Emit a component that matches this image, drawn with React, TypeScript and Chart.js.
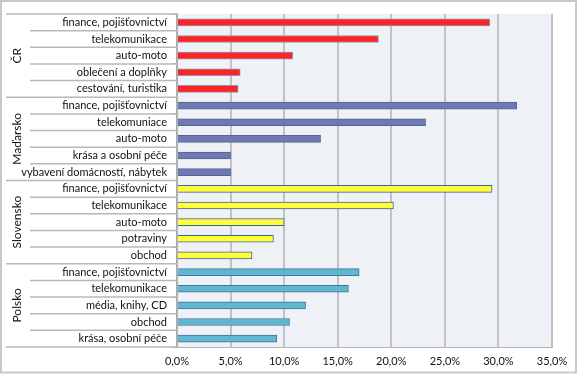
import React, { useEffect, useRef } from "react";
import { Chart, registerables } from "chart.js";

Chart.register(...registerables);

const groups = ["ČR", "Maďarsko", "Slovensko", "Polsko"];
const groupSizes = [5, 5, 5, 5];
const categories = [
  "finance, pojišťovnictví",
  "telekomunikace",
  "auto-moto",
  "oblečení a doplňky",
  "cestování, turistika",
  "finance, pojišťovnictví",
  "telekomuniace",
  "auto-moto",
  "krása a osobní péče",
  "vybavení domácností, nábytek",
  "finance, pojišťovnictví",
  "telekomunikace",
  "auto-moto",
  "potraviny",
  "obchod",
  "finance, pojišťovnictví",
  "telekomunikace",
  "média, knihy, CD",
  "obchod",
  "krása, osobní péče",
];
const values = [
  29.2, 18.8, 10.8, 5.9, 5.7,
  31.7, 23.2, 13.4, 5.0, 5.0,
  29.4, 20.2, 10.0, 9.0, 7.0,
  17.0, 16.0, 12.0, 10.5, 9.3,
];
const xTicks = [0, 5, 10, 15, 20, 25, 30, 35];
const groupFill = ["#ff2424", "#7278b2", "#ffff3a", "#60b8cf"];
const groupBorder = ["#8496b6", "#4c6799", "#3d62a0", "#3f75a6"];

const FONT = "Lato";

export default function App() {
  const ref = useRef<HTMLCanvasElement>(null);
  useEffect(() => {
    document.body.style.margin = "0";
    const fills: string[] = [];
    const borders: string[] = [];
    groupSizes.forEach((n, g) => {
      for (let i = 0; i < n; i++) {
        fills.push(groupFill[g]);
        borders.push(groupBorder[g]);
      }
    });
    const decor = {
      id: "decor",
      beforeDraw(chart: any) {
        const { ctx, chartArea } = chart;
        ctx.save();
        ctx.fillStyle = "#ffffff";
        ctx.fillRect(0, 0, chart.width, chart.height);
        ctx.fillStyle = "#eef1f6";
        ctx.fillRect(chartArea.left, chartArea.top, chartArea.right - chartArea.left, chartArea.bottom - chartArea.top);
        // outer frame
        ctx.strokeStyle = "#c8c8c8";
        ctx.lineWidth = 2;
        ctx.strokeRect(1, 1, chart.width - 3, chart.height - 2.5);
        ctx.restore();
      },
      afterDraw(chart: any) {
        const { ctx } = chart;
        const ys = chart.scales.y;
        const n = categories.length;
        const step = (ys.bottom - ys.top) / n;
        ctx.save();
        ctx.strokeStyle = "#b8b8b8";
        ctx.lineWidth = 1.5;
        let bounds: number[] = [0];
        let acc = 0;
        groupSizes.forEach((s) => {
          acc += s;
          bounds.push(acc);
        });
        for (let i = 0; i <= n; i++) {
          const y = ys.top + i * step;
          const isGroup = bounds.includes(i);
          ctx.beginPath();
          ctx.moveTo(isGroup ? 6 : 30, y);
          ctx.lineTo(ys.right, y);
          ctx.stroke();
        }
        ctx.fillStyle = "#111";
        ctx.font = `12px ${FONT}`;
        ctx.textAlign = "center";
        ctx.textBaseline = "middle";
        let start = 0;
        groupSizes.forEach((s, g) => {
          const y1 = ys.getPixelForValue(start);
          const y2 = ys.getPixelForValue(start + s - 1);
          ctx.save();
          ctx.translate(17, (y1 + y2) / 2);
          ctx.rotate(-Math.PI / 2);
          ctx.fillText(groups[g], 0, 0);
          ctx.restore();
          start += s;
        });
        ctx.restore();
      },
    };
    const chart = new Chart(ref.current!, {
      type: "bar",
      data: {
        labels: categories,
        datasets: [
          {
            data: values,
            backgroundColor: fills,
            borderColor: borders,
            borderWidth: 1,
            barThickness: 7,
          },
        ],
      },
      options: {
        indexAxis: "y",
        animation: false,
        responsive: false,
        layout: { padding: { top: 14, right: 26, left: 0, bottom: 0 } },
        plugins: { legend: { display: false }, tooltip: { enabled: false } },
        scales: {
          x: {
            min: 0,
            max: 35,
            afterFit(scale: any) {
              scale.height = 27;
            },
            afterBuildTicks(scale: any) {
              scale.ticks = xTicks.map((v) => ({ value: v }));
            },
            ticks: {
              padding: 8,
              color: "#111",
              font: { family: FONT, size: 11 },
              callback: (v: any) => `${Number(v).toFixed(1).replace(".", ",")}%`,
            },
            grid: { color: "#c2c2c6", lineWidth: 2, drawTicks: false },
            border: { display: true, color: "#b4b4b4", width: 1 },
          },
          y: {
            afterFit(scale: any) {
              scale.width = 177;
            },
            ticks: {
              padding: 5,
              color: "#111",
              autoSkip: false,
              font: { family: FONT, size: 11 },
            },
            grid: {
              drawOnChartArea: false,
              drawTicks: true,
              tickLength: 5,
              color: "#a8a8a8",
              offset: true,
            },
            border: { display: true, color: "#a8a8a8", width: 1.5 },
          },
        },
      },
      plugins: [decor],
    });
    return () => chart.destroy();
  }, []);
  return <canvas ref={ref} width={578} height={374} style={{ display: "block" }} />;
}
